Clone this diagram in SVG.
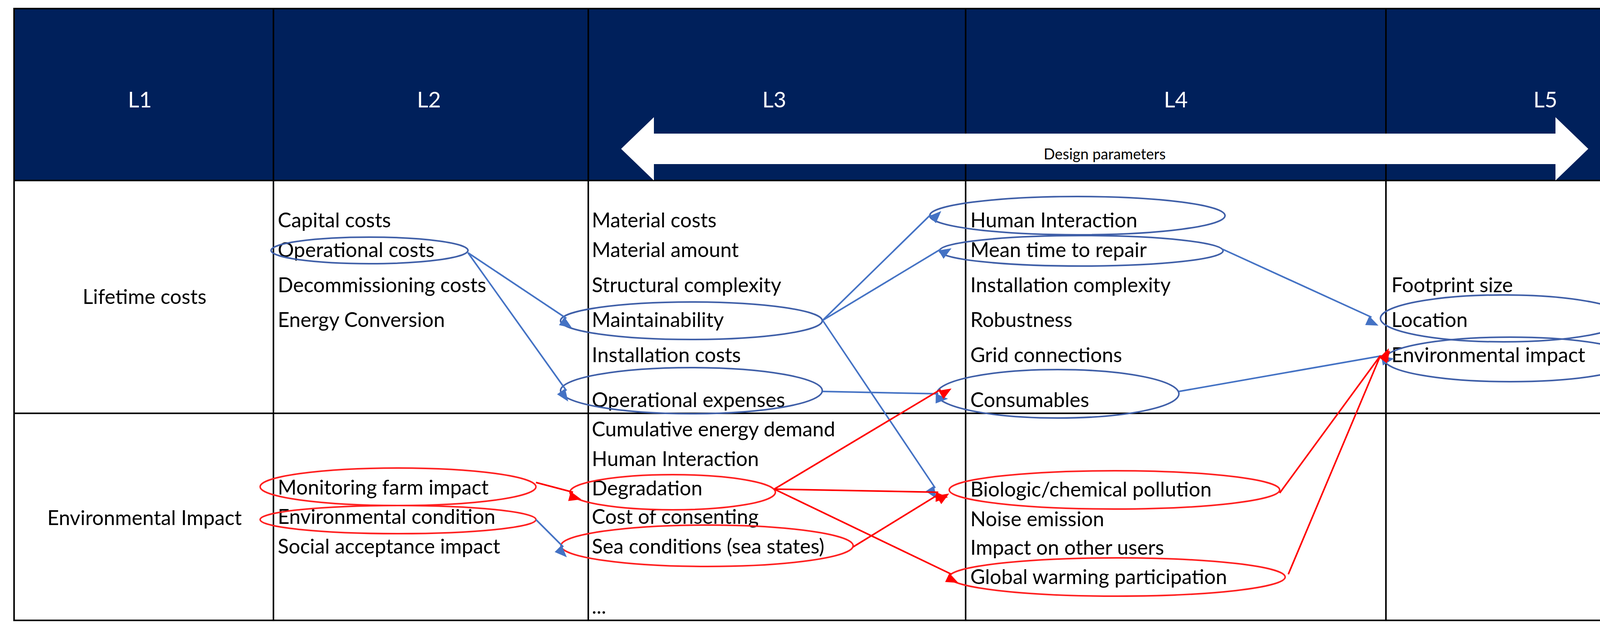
<svg xmlns="http://www.w3.org/2000/svg" width="4392" height="1628" viewBox="0 0 4392 1628">
<style>
text{font-family:"Lato","Liberation Sans",sans-serif;font-size:52px;fill:#000}
.h{fill:#fff;font-size:56px;text-anchor:middle}
.c{text-anchor:middle}
.eb{fill:none;stroke:#3F5FA8;stroke-width:4}
.er{fill:none;stroke:#FF2020;stroke-width:4}
.b{stroke:#4472C4;stroke-width:4;fill:none;marker-end:url(#ab)}
.r{stroke:#FF0000;stroke-width:4;fill:none;marker-end:url(#ar)}
.g{stroke:#000;stroke-width:4;fill:none}
</style>
<defs>
<marker id="ab" viewBox="0 0 10 10" refX="9" refY="5" markerWidth="7" markerHeight="7" orient="auto" markerUnits="userSpaceOnUse" style="overflow:visible"><path d="M0,1L10,5L0,9z" fill="#4472C4" transform="scale(4.5)"/></marker>
<marker id="ar" viewBox="0 0 10 10" refX="9" refY="5" markerWidth="7" markerHeight="7" orient="auto" markerUnits="userSpaceOnUse" style="overflow:visible"><path d="M0,1L10,5L0,9z" fill="#FF0000" transform="scale(4.5)"/></marker>
</defs>
<rect width="4392" height="1628" fill="#fff"/>
<g id="table">
<rect x="36" y="22" width="4326" height="440" fill="#00205B"/>
<rect x="36" y="22" width="4326" height="1566" class="g"/>
<line x1="36" y1="462" x2="4362" y2="462" class="g"/>
<line x1="36" y1="1058" x2="4362" y2="1058" class="g"/>
<line x1="700" y1="22" x2="700" y2="1588" class="g"/>
<line x1="1506" y1="22" x2="1506" y2="1588" class="g"/>
<line x1="2472" y1="22" x2="2472" y2="1588" class="g"/>
<line x1="3548" y1="22" x2="3548" y2="1588" class="g"/>
<text x="358" y="275" class="h">L1</text>
<text x="1098" y="275" class="h">L2</text>
<text x="1982" y="275" class="h">L3</text>
<text x="3010" y="275" class="h">L4</text>
<text x="3956" y="275" class="h">L5</text>
</g>
<g id="design-arrow">
<path d="M1590,381 L1674,300 L1674,342 L3982,342 L3982,300 L4066,381 L3982,462 L3982,420 L1674,420 L1674,462 Z" fill="#fff"/>
<text x="2828" y="408" class="c" style="font-size:38px">Design parameters</text>
</g>
<g id="row-labels">
<text x="370" y="778" class="c">Lifetime costs</text>
<text x="370" y="1344" class="c">Environmental Impact</text>
</g>
<g id="L2">
<text x="711" y="582">Capital costs</text>
<text x="711" y="658">Operational costs</text>
<text x="711" y="748">Decommissioning costs</text>
<text x="711" y="837">Energy Conversion</text>
<text x="711" y="1266">Monitoring farm impact</text>
<text x="711" y="1341">Environmental condition</text>
<text x="711" y="1417">Social acceptance impact</text>
<ellipse cx="946" cy="641" rx="252" ry="34" class="eb"/>
<ellipse cx="1019" cy="1246" rx="353" ry="48" class="er"/>
<ellipse cx="1019" cy="1330" rx="353" ry="36" class="er"/>
</g>
<g id="L3">
<text x="1515" y="582">Material costs</text>
<text x="1515" y="658">Material amount</text>
<text x="1515" y="748">Structural complexity</text>
<text x="1515" y="837">Maintainability</text>
<text x="1515" y="927">Installation costs</text>
<text x="1515" y="1042">Operational expenses</text>
<text x="1515" y="1117">Cumulative energy demand</text>
<text x="1515" y="1193">Human Interaction</text>
<text x="1515" y="1268">Degradation</text>
<text x="1515" y="1341">Cost of consenting</text>
<text x="1515" y="1417">Sea conditions (sea states)</text>
<text x="1515" y="1571">...</text>
<ellipse cx="1770" cy="821" rx="335" ry="48" class="eb"/>
<ellipse cx="1770" cy="1000" rx="335" ry="59" class="eb"/>
<ellipse cx="1722" cy="1260" rx="263" ry="45" class="er"/>
<ellipse cx="1810" cy="1397" rx="374" ry="53" class="er"/>
</g>
<g id="L4">
<text x="2484" y="582">Human Interaction</text>
<text x="2484" y="658">Mean time to repair</text>
<text x="2484" y="748">Installation complexity</text>
<text x="2484" y="837">Robustness</text>
<text x="2484" y="927">Grid connections</text>
<text x="2484" y="1042">Consumables</text>
<text x="2484" y="1271">Biologic/chemical pollution</text>
<text x="2484" y="1347">Noise emission</text>
<text x="2484" y="1420">Impact on other users</text>
<text x="2484" y="1495">Global warming participation</text>
<ellipse cx="2758" cy="552" rx="378" ry="49" class="eb"/>
<ellipse cx="2768" cy="642" rx="363" ry="39" class="eb"/>
<ellipse cx="2708" cy="1008" rx="310" ry="62" class="eb"/>
<ellipse cx="2853" cy="1254" rx="423" ry="49" class="er"/>
<ellipse cx="2860" cy="1477" rx="430" ry="49" class="er"/>
</g>
<g id="L5">
<text x="3562" y="748">Footprint size</text>
<text x="3562" y="837">Location</text>
<text x="3562" y="927">Environmental impact</text>
<ellipse cx="3849" cy="815" rx="315" ry="60" class="eb"/>
<ellipse cx="3866" cy="920" rx="322" ry="57" class="eb"/>
</g>
<g id="connectors">
<line x1="1198" y1="647" x2="1450" y2="815" class="b"/>
<line x1="1198" y1="647" x2="1450" y2="1000" class="b"/>
<line x1="2106" y1="820" x2="2383" y2="549" class="b"/>
<line x1="2106" y1="820" x2="2408" y2="638" class="b"/>
<line x1="2106" y1="820" x2="2394" y2="1249" class="b"/>
<line x1="2106" y1="1002" x2="2402" y2="1008" class="b"/>
<line x1="3130" y1="638" x2="3511" y2="812" class="b"/>
<line x1="3018" y1="1002" x2="3542" y2="910" class="b"/>
<line x1="1372" y1="1330" x2="1442" y2="1400" class="b"/>
<line x1="1372" y1="1235" x2="1467" y2="1260" class="r"/>
<line x1="1982" y1="1252" x2="2408" y2="997" class="r"/>
<line x1="1982" y1="1252" x2="2402" y2="1260" class="r"/>
<line x1="1982" y1="1252" x2="2436" y2="1470" class="r"/>
<line x1="2184" y1="1400" x2="2402" y2="1266" class="r"/>
<line x1="3276" y1="1262" x2="3534" y2="910" class="r"/>
<line x1="3298" y1="1470" x2="3534" y2="910" class="r"/>
</g>
</svg>
